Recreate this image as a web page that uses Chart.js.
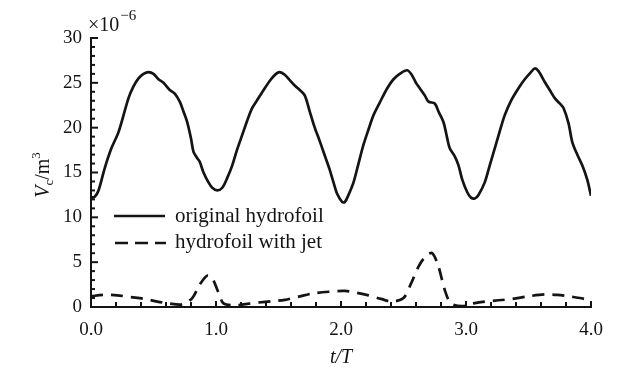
<!DOCTYPE html>
<html><head><meta charset="utf-8">
<script src="https://cdn.jsdelivr.net/npm/chart.js@4/dist/chart.umd.min.js"></script>
<style>html,body{margin:0;padding:0;background:#fff}#wrap{width:636px;height:381px}</style>
</head><body><div id="wrap"><canvas id="c" width="636" height="381"></canvas></div>
<script>
const seriesNames = ["original hydrofoil", "hydrofoil with jet"];
const origT = [0.00,0.03,0.06,0.11,0.16,0.22,0.30,0.34,0.38,0.42,0.46,0.50,0.54,0.58,0.63,0.67,0.71,0.74,0.77,0.80,0.82,0.85,0.87,0.90,0.94,0.97,1.01,1.05,1.09,1.13,1.17,1.21,1.25,1.29,1.34,1.39,1.44,1.48,1.51,1.55,1.59,1.63,1.67,1.71,1.75,1.79,1.83,1.87,1.91,1.94,1.97,2.01,2.03,2.06,2.10,2.14,2.18,2.22,2.26,2.31,2.37,2.42,2.47,2.53,2.57,2.60,2.63,2.67,2.70,2.75,2.78,2.82,2.85,2.87,2.91,2.94,2.97,3.01,3.04,3.07,3.10,3.15,3.19,3.23,3.27,3.31,3.36,3.42,3.47,3.52,3.55,3.58,3.63,3.67,3.71,3.75,3.78,3.82,3.85,3.89,3.93,3.97,4.00];
const origV = [12.2,12.3,13.0,15.5,17.6,19.5,23.3,24.6,25.5,26.0,26.2,26.0,25.4,25.0,24.2,23.8,22.9,21.8,20.6,18.8,17.3,16.6,16.2,15.0,13.9,13.3,13.0,13.3,14.4,15.8,17.6,19.2,20.8,22.2,23.3,24.4,25.4,26.0,26.2,25.9,25.3,24.7,24.2,23.6,21.8,20.0,18.5,16.9,15.3,13.9,12.6,11.7,11.7,12.5,13.9,16.0,18.1,19.8,21.4,22.8,24.4,25.4,26.0,26.4,25.8,25.0,24.4,23.6,22.9,22.7,21.8,20.6,18.8,17.7,16.8,15.8,14.2,12.8,12.2,12.1,12.5,13.9,15.8,17.7,19.6,21.4,23.0,24.4,25.4,26.2,26.6,26.3,25.1,24.2,23.3,22.7,22.2,20.5,18.4,17.0,15.8,14.2,12.4];
const jetT = [0.00,0.10,0.21,0.32,0.43,0.53,0.62,0.73,0.81,0.87,0.93,0.97,1.02,1.06,1.15,1.25,1.34,1.45,1.55,1.66,1.77,1.90,2.03,2.12,2.22,2.32,2.41,2.50,2.56,2.62,2.68,2.73,2.78,2.83,2.88,2.97,3.06,3.15,3.26,3.37,3.50,3.63,3.73,3.82,3.91,3.98];
const jetV = [1.2,1.35,1.3,1.1,0.9,0.6,0.4,0.3,1.0,2.5,3.5,3.2,1.6,0.4,0.2,0.35,0.5,0.65,0.8,1.15,1.5,1.7,1.8,1.6,1.3,0.9,0.6,1.0,2.6,4.5,5.7,6.0,4.5,1.9,0.4,0.1,0.4,0.6,0.75,0.9,1.2,1.4,1.35,1.2,1.0,0.8];
const xTickLabels = ["0.0","1.0","2.0","3.0","4.0"];
const yTickLabels = ["0","5","10","15","20","25","30"];

const INK = '#141414';
const SERIF = '"Liberation Serif","DejaVu Serif",serif';

const ticksPlugin = {
  id: 'inTicks',
  afterDraw(chart) {
    const ctx = chart.ctx, xs = chart.scales.x, ys = chart.scales.y, a = chart.chartArea;
    ctx.save();
    ctx.strokeStyle = INK; ctx.lineWidth = 2;
    for (let i = 0; i <= 20; i++) {
      const px = xs.getPixelForValue(i * 0.2);
      const len = (i % 5 === 0) ? 6 : 5;
      ctx.beginPath(); ctx.moveTo(px, a.bottom); ctx.lineTo(px, a.bottom - len); ctx.stroke();
    }
    for (let v = 0; v <= 30; v++) {
      const py = ys.getPixelForValue(v);
      const len = (v % 5 === 0) ? 7 : 4;
      ctx.beginPath(); ctx.moveTo(a.left, py); ctx.lineTo(a.left + len, py); ctx.stroke();
    }
    // exponent
    ctx.fillStyle = INK;
    ctx.textBaseline = 'alphabetic'; ctx.textAlign = 'left';
    ctx.font = '20px ' + SERIF;
    ctx.fillText('\u00d710', 88, 31);
    const w = ctx.measureText('\u00d710').width;
    ctx.font = '15px ' + SERIF;
    ctx.fillText('\u22126', 88 + w + 1, 20);
    // x title
    ctx.font = 'italic 20px ' + SERIF;
    ctx.textAlign = 'center';
    ctx.fillText('t/T', (a.left + a.right) / 2, 363);
    // y title
    ctx.save();
    ctx.translate(49, 175);
    ctx.rotate(-Math.PI / 2);
    const parts = [
      {t: 'V', f: 'italic 20px ', dy: 0},
      {t: 'c', f: '13px ', dy: 4},
      {t: '/m', f: '20px ', dy: 0},
      {t: '3', f: '13px ', dy: -9}
    ];
    let tw = 0;
    parts.forEach(p => { ctx.font = p.f + SERIF; p.w = ctx.measureText(p.t).width; tw += p.w; });
    let cx = -tw / 2;
    ctx.textAlign = 'left';
    parts.forEach(p => { ctx.font = p.f + SERIF; ctx.fillText(p.t, cx, p.dy); cx += p.w; });
    ctx.restore();
    // legend
    ctx.lineWidth = 2.5;
    ctx.beginPath(); ctx.moveTo(114, 216); ctx.lineTo(165, 216); ctx.stroke();
    ctx.setLineDash([13, 7]);
    ctx.beginPath(); ctx.moveTo(115, 243); ctx.lineTo(166, 243); ctx.stroke();
    ctx.setLineDash([]);
    ctx.font = '21px ' + SERIF;
    ctx.textAlign = 'left'; ctx.textBaseline = 'middle';
    ctx.fillText(seriesNames[0], 175, 216);
    ctx.fillText(seriesNames[1], 175, 242);
    ctx.restore();
  }
};

new Chart(document.getElementById('c'), {
  type: 'line',
  data: {
    datasets: [
      { label: seriesNames[0], data: origT.map((t, i) => ({x: t, y: origV[i]})),
        borderColor: INK, borderWidth: 2.7, pointRadius: 0, tension: 0.3, fill: false },
      { label: seriesNames[1], data: jetT.map((t, i) => ({x: t, y: jetV[i]})),
        borderColor: INK, borderWidth: 2.7, borderDash: [12, 8], pointRadius: 0, tension: 0.3, fill: false }
    ]
  },
  options: {
    responsive: false, animation: false,
    layout: { padding: { top: 38, right: 45, left: 0, bottom: 0 } },
    plugins: { legend: { display: false }, tooltip: { enabled: false } },
    scales: {
      x: {
        type: 'linear', min: 0, max: 4,
        afterFit(s) { s.height = 74; },
        afterBuildTicks(s) { s.ticks = xTickLabels.map(l => ({value: parseFloat(l)})); },
        ticks: { callback: (v) => xTickLabels.find(l => parseFloat(l) === v), color: INK, padding: 12, maxRotation: 0,
                 font: { family: SERIF, size: 19 } },
        grid: { display: false, drawTicks: false },
        border: { display: true, color: INK, width: 2 }
      },
      y: {
        min: 0, max: 30,
        afterFit(s) { s.width = 91; },
        afterBuildTicks(s) { s.ticks = yTickLabels.map(l => ({value: parseFloat(l)})); },
        ticks: { callback: (v) => yTickLabels.find(l => parseFloat(l) === v), color: INK, padding: 9,
                 font: { family: SERIF, size: 19 } },
        grid: { display: false, drawTicks: false },
        border: { display: true, color: INK, width: 2 }
      }
    }
  },
  plugins: [ticksPlugin]
});
</script></body></html>
